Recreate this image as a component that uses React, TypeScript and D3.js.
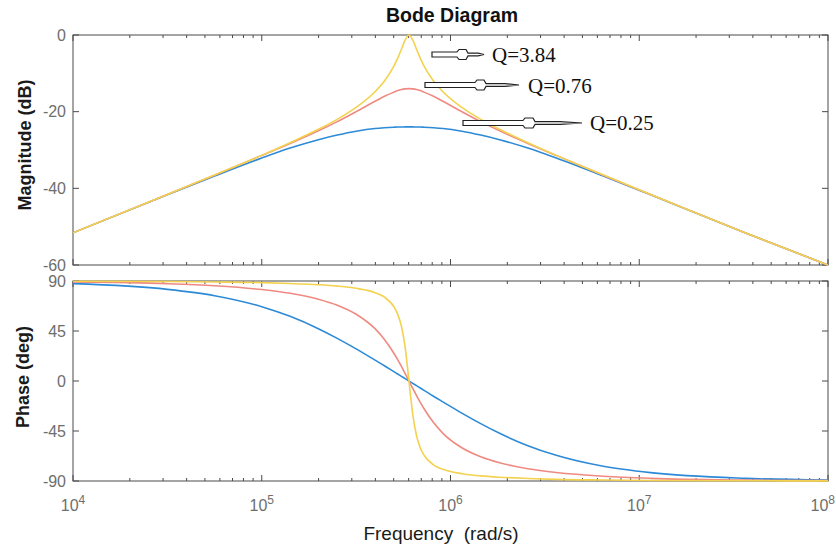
import React from 'react';
import * as d3 from 'd3';

const freqExp = [4, 4.5, 4.75, 5, 5.15, 5.3, 5.4, 5.5, 5.6, 5.65, 5.7, 5.72, 5.74, 5.76, 5.78, 5.8, 5.82, 5.84, 5.86, 5.91, 5.96, 6.06, 6.16, 6.26, 6.41, 6.56, 6.81, 7.06, 7.56, 8];

// magnitude (dB)
const magQ384 = [-51.6, -41.6, -36.5, -31.4, -28.1, -24.6, -22.0, -18.9, -14.8, -12.0, -8.1, -6.1, -3.7, -1.3, 0, -1.3, -3.7, -6.1, -8.1, -12.0, -14.8, -18.9, -22.0, -24.6, -28.1, -31.4, -36.5, -41.6, -51.6, -60];
const magQ076 = [-51.6, -41.6, -36.6, -31.4, -28.3, -25.0, -22.6, -20.0, -17.3, -16.0, -14.9, -14.5, -14.2, -14.05, -14.0, -14.05, -14.2, -14.5, -14.9, -16.0, -17.3, -20.0, -22.6, -25.0, -28.3, -31.4, -36.6, -41.6, -51.6, -60];
const magQ025 = [-51.6, -41.7, -36.8, -32.1, -29.5, -27.3, -26.1, -25.1, -24.4, -24.2, -24.05, -24.0, -24.0, -23.97, -23.96, -23.97, -24.0, -24.0, -24.05, -24.2, -24.4, -25.1, -26.1, -27.3, -29.5, -32.1, -36.8, -41.7, -51.6, -60];

// phase (deg)
const phQ384 = [89.8, 89.5, 89.1, 88.5, 87.7, 86.6, 85.4, 83.4, 79.5, 75.4, 66.8, 60.2, 49.3, 30.1, 0, -30.1, -49.3, -60.2, -66.8, -75.4, -79.5, -83.4, -85.4, -86.6, -87.7, -88.5, -89.1, -89.5, -89.8, -89.9];
const phQ076 = [89.2, 87.6, 85.7, 82.3, 78.9, 73.6, 68.2, 60.1, 47.1, 37.4, 25.0, 19.3, 13.1, 6.6, 0, -6.6, -13.1, -19.3, -25.0, -37.4, -47.1, -60.1, -68.2, -73.6, -78.9, -82.3, -85.7, -87.6, -89.2, -89.7];
const phQ025 = [87.6, 82.5, 76.8, 66.9, 58.2, 47.1, 38.4, 28.9, 18.8, 13.7, 8.4, 6.3, 4.2, 2.1, 0, -2.1, -4.2, -6.3, -8.4, -13.7, -18.8, -28.9, -38.4, -47.1, -58.2, -66.9, -76.8, -82.5, -87.6, -89.1];

const qLabels = ['Q=0.25', 'Q=0.76', 'Q=3.84'];
const colors = ['#2d8ad6', '#ef8a82', '#f3d24f'];
const magTicks = [-60, -40, -20, 0];
const phaseTicks = [-90, -45, 0, 45, 90];
const decades = [4, 5, 6, 7, 8];

const W = 836, H = 551;
const sans = '"Liberation Sans", Arial, sans-serif';
const serif = '"Liberation Serif", "Times New Roman", serif';

const left = 73, right = 828;
const magTop = 35, magBottom = 265;
const phTop = 281, phBottom = 481;

const x = d3.scaleLog().domain([1e4, 1e8]).range([left, right]);
const yMag = d3.scaleLinear().domain([-60, 0]).range([magBottom, magTop]);
const yPh = d3.scaleLinear().domain([-90, 90]).range([phBottom, phTop]);

const minorTicks: number[] = [];
for (let d = 4; d < 8; d++) for (let k = 2; k <= 9; k++) minorTicks.push(k * 10 ** d);

const magSeries = [magQ025, magQ076, magQ384];
const phSeries = [phQ025, phQ076, phQ384];

function pathFor(vals: number[], y: d3.ScaleLinear<number, number>) {
  const line = d3.line<number>()
    .x((_, i) => x(10 ** freqExp[i]))
    .y(v => y(v))
    .curve(d3.curveMonotoneX);
  return line(vals) || '';
}

// hollow "pencil" arrow as drawn on the scanned figure
function arrowPath(x0: number, x1: number, x2: number, x3: number, x4: number, cy: number) {
  return `M${x0},${cy - 2.5} H${x1} L${x1 + 2},${cy - 5} H${x2 - 2} L${x2},${cy - 1.4} H${x3} L${x4},${cy} L${x3},${cy + 1.4} H${x2} L${x2 - 2},${cy + 5} H${x1 + 2} L${x1},${cy + 2.5} H${x0} Z`;
}

const Panel = ({ top, bottom, y, ticks, clip }: any) => (
  <g>
    <rect x={left} y={top} width={right - left} height={bottom - top} fill="none" stroke="#4a4a4a" strokeWidth={1} />
    {decades.map(d => (
      <g key={'M' + d}>
        <line x1={x(10 ** d)} x2={x(10 ** d)} y1={bottom} y2={bottom - 6} stroke="#4a4a4a" />
        <line x1={x(10 ** d)} x2={x(10 ** d)} y1={top} y2={top + 6} stroke="#4a4a4a" />
      </g>
    ))}
    {minorTicks.map(v => (
      <g key={'m' + v}>
        <line x1={x(v)} x2={x(v)} y1={bottom} y2={bottom - 3} stroke="#4a4a4a" />
        <line x1={x(v)} x2={x(v)} y1={top} y2={top + 3} stroke="#4a4a4a" />
      </g>
    ))}
    {ticks.map((t: number) => (
      <g key={'y' + t}>
        <line x1={left} x2={left + 6} y1={y(t)} y2={y(t)} stroke="#4a4a4a" />
        <line x1={right} x2={right - 6} y1={y(t)} y2={y(t)} stroke="#4a4a4a" />
        <text x={left - 7} y={y(t)} dy="0.36em" textAnchor="end" fontFamily={sans} fontSize={16} fill="#6e6e6e">{t}</text>
      </g>
    ))}
    <clipPath id={clip}><rect x={left} y={top - 1} width={right - left} height={bottom - top + 2} /></clipPath>
  </g>
);

export default function App() {
  const arrows = [
    { a: [432, 457, 468, 478, 484, 54.5], tx: 492, ty: 62, label: qLabels[2] },
    { a: [425, 475, 486, 505, 519, 85], tx: 528, ty: 93, label: qLabels[1] },
    { a: [463, 523, 535, 560, 582, 123], tx: 590, ty: 130, label: qLabels[0] },
  ];
  return (
    <svg width={W} height={H} style={{ position: 'absolute', left: 0, top: 0, background: '#fff' }}>
      <text x={452} y={22} textAnchor="middle" fontFamily={sans} fontWeight="bold" fontSize={19.5} fill="#111">Bode Diagram</text>

      <Panel top={magTop} bottom={magBottom} y={yMag} ticks={magTicks} clip="clipMag" />
      <Panel top={phTop} bottom={phBottom} y={yPh} ticks={phaseTicks} clip="clipPh" />

      <g clipPath="url(#clipMag)">
        {magSeries.map((s, i) => (
          <path key={i} d={pathFor(s, yMag)} fill="none" stroke={colors[i]} strokeWidth={1.6} />
        ))}
      </g>
      <g clipPath="url(#clipPh)">
        {phSeries.map((s, i) => (
          <path key={i} d={pathFor(s, yPh)} fill="none" stroke={colors[i]} strokeWidth={1.6} />
        ))}
      </g>

      {decades.map((d, i) => {
        const last = i === decades.length - 1;
        return (
          <text key={d} x={last ? 835 : x(10 ** d)} y={511} textAnchor={last ? 'end' : 'middle'} fontFamily={sans} fontSize={16} fill="#6e6e6e">
            10<tspan dy={-7} fontSize={12}>{d}</tspan>
          </text>
        );
      })}

      <text x={441} y={540} textAnchor="middle" fontFamily={sans} fontSize={19} fill="#1a1a1a" style={{ whiteSpace: 'pre' }}>Frequency  (rad/s)</text>
      <text transform={`translate(31,145) rotate(-90)`} textAnchor="middle" fontFamily={sans} fontWeight="bold" fontSize={18} fill="#1a1a1a">Magnitude (dB)</text>
      <text transform={`translate(29,377) rotate(-90)`} textAnchor="middle" fontFamily={sans} fontWeight="bold" fontSize={18} fill="#1a1a1a">Phase (deg)</text>

      {arrows.map((r, i) => {
        const [x0, x1, x2, x3, x4, cy] = r.a;
        return (
          <g key={i}>
            <path d={arrowPath(x0, x1, x2, x3, x4, cy)} fill="#fff" stroke="#222" strokeWidth={1.2} />
            <text x={r.tx} y={r.ty} fontFamily={serif} fontSize={21} fill="#111">{r.label}</text>
          </g>
        );
      })}
    </svg>
  );
}
